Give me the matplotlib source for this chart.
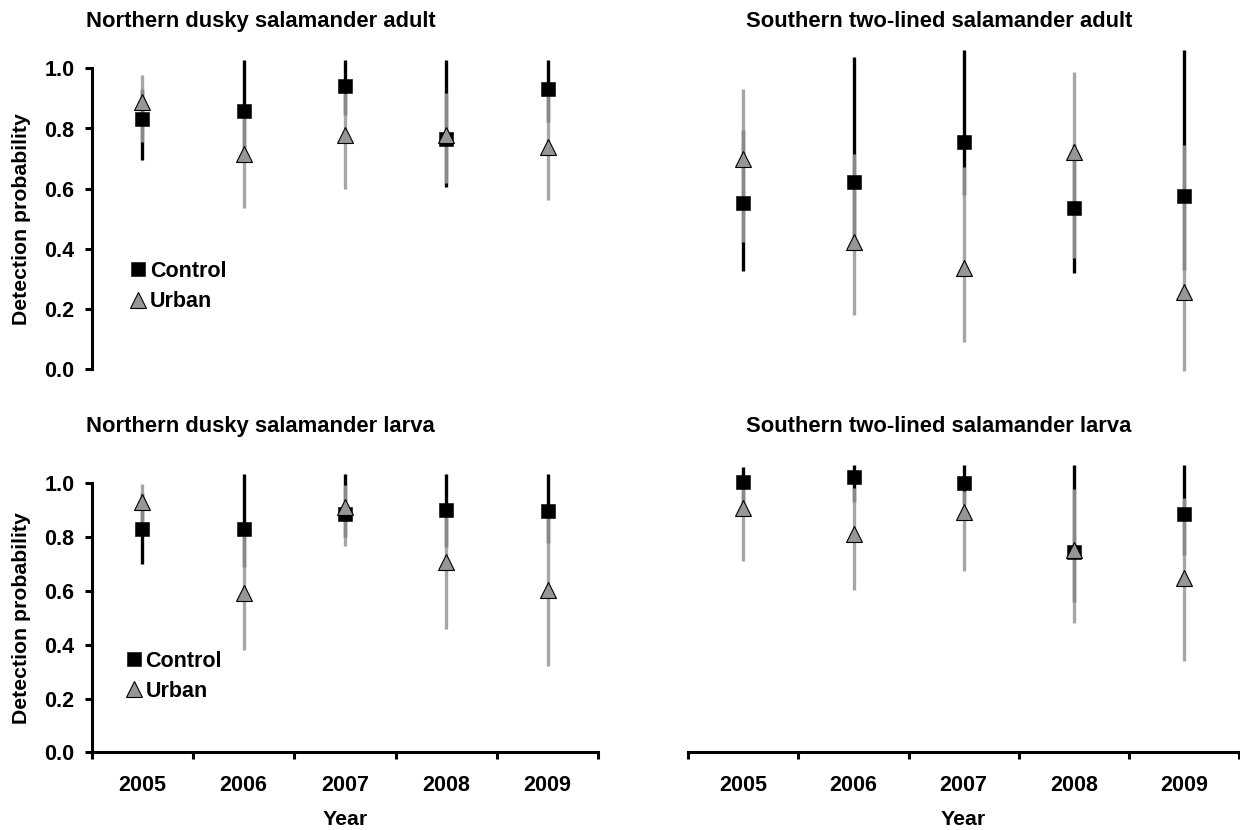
import matplotlib
matplotlib.use('Agg')
import matplotlib.pyplot as plt
import numpy as np

plt.rcParams['font.family'] = ['Liberation Sans', 'DejaVu Sans']
plt.rcParams['font.weight'] = 'bold'

# ---------------- data ----------------
years = ['2005', '2006', '2007', '2008', '2009']
series_names = ['Control', 'Urban']
titles = ['Northern dusky salamander adult', 'Southern two-lined salamander adult',
          'Northern dusky salamander larva', 'Southern two-lined salamander larva']

# Northern dusky salamander adult
nda_control = [0.830, 0.859, 0.941, 0.764, 0.930]
nda_control_lo = [0.695, 0.720, 0.845, 0.607, 0.820]
nda_control_hi = [0.930, 1.027, 1.027, 1.027, 1.027]
nda_urban = [0.887, 0.715, 0.778, 0.780, 0.740]
nda_urban_lo = [0.756, 0.535, 0.598, 0.618, 0.562]
nda_urban_hi = [0.978, 0.860, 0.918, 0.919, 0.920]

# Southern two-lined salamander adult
sta_control = [0.551, 0.622, 0.754, 0.535, 0.576]
sta_control_lo = [0.328, 0.420, 0.578, 0.319, 0.330]
sta_control_hi = [0.795, 1.039, 1.061, 0.750, 1.061]
sta_urban = [0.699, 0.424, 0.338, 0.723, 0.256]
sta_urban_lo = [0.424, 0.180, 0.092, 0.369, -0.006]
sta_urban_hi = [0.930, 0.715, 0.673, 0.987, 0.745]

# Northern dusky salamander larva
ndl_control = [0.830, 0.828, 0.883, 0.899, 0.895]
ndl_control_lo = [0.700, 0.688, 0.800, 0.760, 0.775]
ndl_control_hi = [0.960, 1.032, 1.032, 1.032, 1.032]
ndl_urban = [0.929, 0.591, 0.909, 0.707, 0.601]
ndl_urban_lo = [0.820, 0.381, 0.765, 0.459, 0.320]
ndl_urban_hi = [0.995, 0.820, 0.992, 0.890, 0.880]

# Southern two-lined salamander larva
stl_control = [1.001, 1.022, 0.998, 0.743, 0.883]
stl_control_lo = [0.920, 0.929, 0.920, 0.558, 0.731]
stl_control_hi = [1.060, 1.066, 1.066, 1.066, 1.066]
stl_urban = [0.905, 0.809, 0.890, 0.752, 0.645]
stl_urban_lo = [0.710, 0.601, 0.673, 0.480, 0.338]
stl_urban_hi = [0.990, 0.979, 0.970, 0.975, 0.942]

yticks = [0.0, 0.2, 0.4, 0.6, 0.8, 1.0]

# ---------------- layout ----------------
W, H = 1240, 830
fig = plt.figure(figsize=(W / 100, H / 100), dpi=100)
YMIN, YMAX = -0.02, 1.08

FS_TICK = 15.5
FS_TITLE = 15.8
FS_LABEL = 15.3
LW = 2.2
URB_BAR = (155 / 255, 155 / 255, 155 / 255)
URB_FACE = '#969696'


def px_rect(x0, x1, y0px, scale):
    ytop = y0px - YMAX * scale
    ybot = y0px - YMIN * scale
    return [x0 / W, 1 - ybot / H, (x1 - x0) / W, (ybot - ytop) / H]


cols = [(91.7, 598.3), (688.3, 1239.0)]
rows = [(369.3, 301.0), (752.5, 269.8)]

data = [
    (nda_control, nda_control_lo, nda_control_hi, nda_urban, nda_urban_lo, nda_urban_hi),
    (sta_control, sta_control_lo, sta_control_hi, sta_urban, sta_urban_lo, sta_urban_hi),
    (ndl_control, ndl_control_lo, ndl_control_hi, ndl_urban, ndl_urban_lo, ndl_urban_hi),
    (stl_control, stl_control_lo, stl_control_hi, stl_urban, stl_urban_lo, stl_urban_hi),
]

title_pos = [(86, 21.7), (746, 21.7), (86, 426.7), (746, 426.7)]
legend_pos = [(129.5, 261.0), None, (125.0, 650.5), None]

x = np.arange(len(years))
for i, (c, clo, chi, u, ulo, uhi) in enumerate(data):
    r, k = divmod(i, 2)
    x0, x1 = cols[k]
    y0px, sc = rows[r]
    ax = fig.add_axes(px_rect(x0, x1, y0px, sc))
    ax.set_xlim(-0.5, len(years) - 0.5)
    ax.set_ylim(YMIN, YMAX)
    ax.patch.set_alpha(0)

    c = np.array(c); u = np.array(u)
    ax.errorbar(x, c, yerr=[c - np.array(clo), np.array(chi) - c], fmt='none',
                ecolor='black', elinewidth=2.4, capsize=0, zorder=2)
    ax.errorbar(x, u, yerr=[u - np.array(ulo), np.array(uhi) - u], fmt='none',
                ecolor=URB_BAR, alpha=0.89, elinewidth=2.4, capsize=0, zorder=3)
    hc, = ax.plot(x, c, linestyle='none', marker='s', ms=10.6, mfc='black',
                  mec='black', mew=0.4, zorder=4, label=series_names[0])
    hu, = ax.plot(x, u, linestyle='none', marker='^', ms=11.5, mfc=URB_FACE,
                  mec='black', mew=0.8, zorder=5, label=series_names[1])

    for s in ['top', 'right']:
        ax.spines[s].set_visible(False)
    # y axis
    if k == 0:
        ax.spines['left'].set_linewidth(LW)
        ax.spines['left'].set_bounds(0, 1)
        ax.set_yticks(yticks)
        ax.set_yticklabels([f'{v:.1f}' for v in yticks])
        ax.tick_params(axis='y', direction='out', length=5, width=LW,
                       labelsize=FS_TICK, pad=7.5)
    else:
        ax.spines['left'].set_visible(False)
        ax.tick_params(axis='y', left=False, labelleft=False)
    # x axis
    if r == 1:
        ax.spines['bottom'].set_linewidth(LW)
        ax.spines['bottom'].set_position(('data', 0))
        ax.set_xticks(np.arange(-0.5, len(years), 1.0))
        ax.set_xticklabels([])
        ax.set_xticks(x, minor=True)
        ax.set_xticklabels(years, minor=True)
        ax.tick_params(axis='x', which='major', direction='out', length=5, width=LW)
        ax.tick_params(axis='x', which='minor', length=0, labelsize=FS_TICK, pad=16)
        fig.text((x0 + x1) / 2 / W, 1 - 819 / H, 'Year', ha='center', va='center',
                 fontsize=FS_LABEL, fontweight='bold')
    else:
        ax.spines['bottom'].set_visible(False)
        ax.tick_params(axis='x', which='both', bottom=False, labelbottom=False)

    if k == 0:
        ymid = y0px - 0.5 * sc
        fig.text(22 / W, 1 - ymid / H, 'Detection probability', rotation=90,
                 ha='center', va='center', fontsize=FS_LABEL, fontweight='bold')

    tx, ty = title_pos[i]
    fig.text(tx / W, 1 - ty / H, titles[i], ha='left', va='center',
             fontsize=FS_TITLE, fontweight='bold')

    if legend_pos[i] is not None:
        lx, ly = legend_pos[i]
        ax.legend(handles=[hc, hu], loc='upper left',
                  bbox_to_anchor=(lx / W, 1 - ly / H), bbox_transform=fig.transFigure,
                  frameon=False, borderpad=0, borderaxespad=0, numpoints=1,
                  handlelength=0.8, handletextpad=0.15, labelspacing=0.42,
                  prop={'size': FS_TICK, 'weight': 'bold'})

fig.savefig('out.png', dpi=100)
